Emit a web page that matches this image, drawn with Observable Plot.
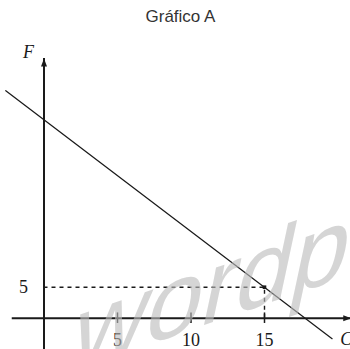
<!DOCTYPE html>
<html>
<head>
<meta charset="utf-8">
<script src="https://cdn.jsdelivr.net/npm/d3@7"></script>
<script src="https://cdn.jsdelivr.net/npm/@observablehq/plot@0.6"></script>
<style>
  html, body { margin: 0; padding: 0; background: #fff; overflow: hidden; }
  #title { font-family: "Liberation Sans", Arial, sans-serif; font-size: 17px; color: #333;
           text-align: center; height: 34px; line-height: 34px; padding-left: 11px; box-sizing: border-box; width: 350px; }
  svg { display: block; }
</style>
</head>
<body>
<div id="title"></div>
<div id="chart"></div>
<script>
// ---- data ----
const titleText = "Gráfico A";
const xLabel = "C";
const yLabel = "F";
const watermark = "wordp";
const lineC = [-2.6, 19.6];
const lineF = [36.7, -3.3];
const xTicks = [5, 10, 15];
const yTicks = [5];
const pointC = [15];
const pointF = [5];
const xAxisExtent = [-2.16, 20.9];
const yAxisExtent = [-6, 41.9];

document.getElementById("title").textContent = titleText;

const lineData = lineC.map((c, i) => ({C: c, F: lineF[i]}));
const pointData = pointC.map((c, i) => ({C: c, F: pointF[i]}));

const upArrow = {draw(ctx) { ctx.moveTo(0, 0); ctx.lineTo(3, 8); ctx.lineTo(-3, 8); ctx.closePath(); }};
const sq = {draw(ctx) { ctx.moveTo(-1.8, -1.8); ctx.lineTo(1.8, -1.8); ctx.lineTo(1.8, 1.8); ctx.lineTo(-1.8, 1.8); ctx.closePath(); }};

const serif = "Liberation Serif, Times New Roman, serif";
const ink = "#1a1a1a";

const plot = Plot.plot({
  width: 350,
  height: 315,
  x: {domain: [0, 15], range: [43.5, 264], axis: null},
  y: {domain: [0, 5], range: [283.7, 252.7], axis: null},
  marks: [
    // dashed guides
    Plot.ruleY(pointData, {y: "F", x1: 0, x2: "C", stroke: ink, strokeWidth: 1.4, strokeDasharray: "4,4"}),
    Plot.ruleX(pointData, {x: "C", y1: 0, y2: "F", stroke: ink, strokeWidth: 1.4, strokeDasharray: "4,4"}),
    // axes
    Plot.ruleY([0], {x1: xAxisExtent[0], x2: xAxisExtent[1], stroke: ink, strokeWidth: 2}),
    Plot.ruleX([0], {y1: yAxisExtent[0], y2: yAxisExtent[1], stroke: ink, strokeWidth: 2}),
    Plot.dot([0], {x: 0, y: yAxisExtent[1], symbol: upArrow, fill: ink, stroke: null}),
    Plot.dot([0], {x: xAxisExtent[1], y: 0, symbol: upArrow, rotate: 90, fill: ink, stroke: null}),
    // ticks
    Plot.ruleX(xTicks, {x: d => d, y1: -0.85, y2: 0.85, stroke: ink, strokeWidth: 1.5}),
    // tick labels
    Plot.text(xTicks, {x: d => d, y: 0, text: d => String(d), dy: 27.3, lineAnchor: "bottom",
      textAnchor: "middle", fontFamily: serif, fontSize: 18, fill: ink}),
    Plot.text(yTicks, {x: 0, y: d => d, text: d => String(d), dx: -16, lineAnchor: "middle",
      textAnchor: "end", fontFamily: serif, fontSize: 18, fill: ink}),
    // axis labels
    Plot.text([yLabel], {x: 0, y: yAxisExtent[1], text: d => d, dx: -10, dy: -0.5, lineAnchor: "bottom",
      textAnchor: "end", fontFamily: serif, fontStyle: "italic", fontSize: 18, fill: ink}),
    Plot.text([xLabel], {x: xAxisExtent[1], y: 0, text: d => d, dx: -11, dy: 26.5, lineAnchor: "bottom",
      textAnchor: "start", fontFamily: serif, fontStyle: "italic", fontSize: 18, fill: ink}),
    // the line
    Plot.line(lineData, {x: "C", y: "F", stroke: ink, strokeWidth: 1.25}),
    Plot.dot(pointData, {x: "C", y: "F", symbol: sq, fill: ink, stroke: null})
  ]
});

// watermark overlay
d3.select(plot).append("text")
  .attr("transform", "translate(68,338) skewY(-19) skewX(-13)")
  .attr("text-anchor", "start")
  .style("font-family", "'Liberation Sans', Arial, sans-serif")
  .style("font-size", "101px")
  .style("fill", "#bbbbbb")
  .style("fill-opacity", 0.62)
  .text(watermark);

document.getElementById("chart").appendChild(plot);
</script>
</body>
</html>
